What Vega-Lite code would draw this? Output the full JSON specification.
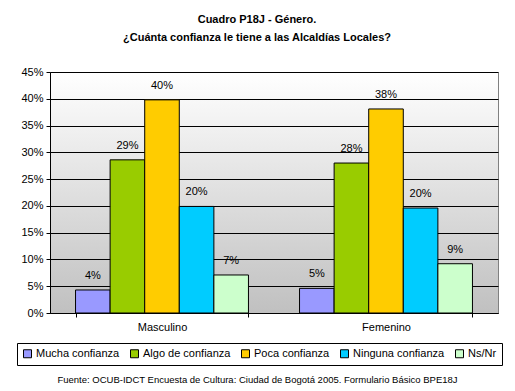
{
  "$schema": "https://vega.github.io/schema/vega-lite/v6.json",
  "width": 448,
  "height": 241,
  "autosize": {"type": "none"},
  "padding": {"left": 50, "top": 72, "right": 17, "bottom": 78},
  "background": "white",
  "title": {
    "text": ["Cuadro P18J - Género.", "¿Cuánta confianza le tiene a las Alcaldías Locales?"],
    "font": "Liberation Sans",
    "fontSize": 11,
    "fontWeight": "bold",
    "color": "black",
    "anchor": "middle",
    "dx": -17,
    "offset": 23,
    "lineHeight": 18
  },
  "data": {
    "values": [
      {"genero": "Masculino", "respuesta": "Mucha confianza", "valor": 0.043},
      {"genero": "Masculino", "respuesta": "Algo de confianza", "valor": 0.286},
      {"genero": "Masculino", "respuesta": "Poca confianza", "valor": 0.398},
      {"genero": "Masculino", "respuesta": "Ninguna confianza", "valor": 0.199},
      {"genero": "Masculino", "respuesta": "Ns/Nr", "valor": 0.071},
      {"genero": "Femenino", "respuesta": "Mucha confianza", "valor": 0.046},
      {"genero": "Femenino", "respuesta": "Algo de confianza", "valor": 0.280},
      {"genero": "Femenino", "respuesta": "Poca confianza", "valor": 0.381},
      {"genero": "Femenino", "respuesta": "Ninguna confianza", "valor": 0.196},
      {"genero": "Femenino", "respuesta": "Ns/Nr", "valor": 0.092}
    ]
  },
  "encoding": {
    "x": {
      "field": "genero",
      "type": "nominal",
      "sort": ["Masculino", "Femenino"],
      "scale": {"paddingInner": 0.228, "paddingOuter": 0.114},
      "axis": {
        "title": "Fuente: OCUB-IDCT Encuesta de Cultura: Ciudad de Bogotá 2005. Formulario Básico BPE18J",
        "titleFont": "Liberation Sans",
        "titleFontSize": 9.5,
        "titleFontWeight": "normal",
        "titleColor": "black",
        "titleX": 207,
        "titleY": 61,
        "labelAngle": 0,
        "labelFont": "Liberation Sans",
        "labelFontSize": 11,
        "labelColor": "black",
        "labelPadding": 4,
        "domainColor": "black",
        "tickColor": "black",
        "tickBand": "extent",
        "tickSize": 4,
        "grid": false
      }
    },
    "xOffset": {
      "field": "respuesta",
      "type": "nominal",
      "sort": ["Mucha confianza", "Algo de confianza", "Poca confianza", "Ninguna confianza", "Ns/Nr"],
      "scale": {"paddingInner": 0, "paddingOuter": 0}
    },
    "y": {
      "field": "valor",
      "type": "quantitative",
      "scale": {"domain": [0, 0.45]},
      "axis": {
        "title": null,
        "format": ".0%",
        "values": [0, 0.05, 0.1, 0.15, 0.2, 0.25, 0.3, 0.35, 0.4, 0.45],
        "labelFont": "Liberation Sans",
        "labelFontSize": 11,
        "labelColor": "black",
        "domainColor": "black",
        "tickColor": "black",
        "tickSize": 4,
        "labelPadding": 3,
        "grid": true,
        "gridColor": "black",
        "gridWidth": 1
      }
    }
  },
  "layer": [
    {
      "mark": {"type": "bar", "stroke": "black", "strokeWidth": 1},
      "encoding": {
        "color": {
          "field": "respuesta",
          "type": "nominal",
          "sort": ["Mucha confianza", "Algo de confianza", "Poca confianza", "Ninguna confianza", "Ns/Nr"],
          "scale": {"range": ["#9999FF", "#99CC00", "#FFCC00", "#00CCFF", "#CCFFCC"]},
          "legend": {
            "title": null,
            "orient": "none",
            "direction": "horizontal",
            "legendX": -33,
            "legendY": 271,
            "symbolType": "square",
            "symbolSize": 64,
            "symbolStrokeColor": "black",
            "symbolStrokeWidth": 1,
            "labelFont": "Liberation Sans",
            "labelFontSize": 11,
            "labelColor": "black",
            "labelOffset": 3,
            "columnPadding": 8,
            "strokeColor": "black",
            "fillColor": "white",
            "padding": 5
          }
        }
      }
    },
    {
      "mark": {"type": "text", "dy": -14, "font": "Liberation Sans", "fontSize": 11, "color": "black"},
      "encoding": {
        "text": {"field": "valor", "type": "quantitative", "format": ".0%"}
      }
    }
  ],
  "config": {
    "view": {
      "stroke": "#808080",
      "strokeWidth": 1,
      "fill": {
        "gradient": "linear",
        "x1": 0, "y1": 0, "x2": 0, "y2": 1,
        "stops": [
          {"offset": 0, "color": "#ffffff"},
          {"offset": 1, "color": "#c0c0c0"}
        ]
      }
    }
  }
}
